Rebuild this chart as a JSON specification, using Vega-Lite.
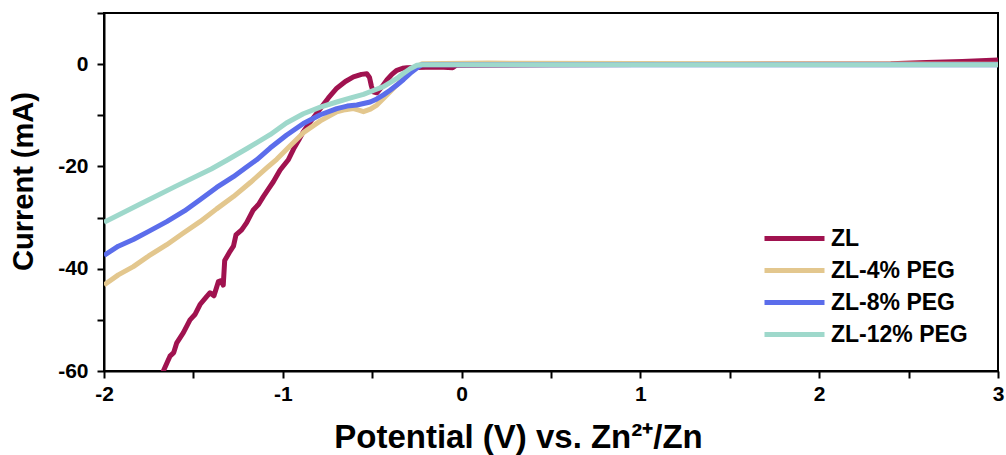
{
  "$schema": "https://vega.github.io/schema/vega-lite/v6.json",
  "width": 894,
  "height": 358,
  "autosize": "none",
  "padding": {"left": 104, "top": 13, "right": 8, "bottom": 84},
  "background": "white",
  "config": {
    "view": {"stroke": "black", "strokeWidth": 2},
    "font": "Liberation Sans"
  },
  "data": {
    "values": [
      {"s": "ZL", "x": -1.70, "y": -63},
      {"s": "ZL", "x": -1.668, "y": -60},
      {"s": "ZL", "x": -1.645, "y": -58.2},
      {"s": "ZL", "x": -1.631, "y": -57.1},
      {"s": "ZL", "x": -1.61, "y": -56.4},
      {"s": "ZL", "x": -1.593, "y": -54.5},
      {"s": "ZL", "x": -1.556, "y": -52.5},
      {"s": "ZL", "x": -1.519, "y": -50.0},
      {"s": "ZL", "x": -1.49, "y": -48.9},
      {"s": "ZL", "x": -1.463, "y": -47.0},
      {"s": "ZL", "x": -1.425, "y": -45.4},
      {"s": "ZL", "x": -1.407, "y": -44.7},
      {"s": "ZL", "x": -1.385, "y": -45.3},
      {"s": "ZL", "x": -1.36, "y": -42.5},
      {"s": "ZL", "x": -1.345, "y": -42.3},
      {"s": "ZL", "x": -1.333, "y": -43.2},
      {"s": "ZL", "x": -1.325, "y": -38.4},
      {"s": "ZL", "x": -1.295, "y": -36.6},
      {"s": "ZL", "x": -1.276, "y": -35.6},
      {"s": "ZL", "x": -1.262, "y": -33.4},
      {"s": "ZL", "x": -1.23, "y": -32.4},
      {"s": "ZL", "x": -1.202, "y": -31.0},
      {"s": "ZL", "x": -1.165, "y": -28.5},
      {"s": "ZL", "x": -1.135, "y": -27.4},
      {"s": "ZL", "x": -1.109, "y": -25.9},
      {"s": "ZL", "x": -1.08, "y": -24.4},
      {"s": "ZL", "x": -1.053, "y": -23.0},
      {"s": "ZL", "x": -1.015, "y": -20.7},
      {"s": "ZL", "x": -0.969, "y": -18.7},
      {"s": "ZL", "x": -0.94, "y": -16.6},
      {"s": "ZL", "x": -0.91, "y": -14.8},
      {"s": "ZL", "x": -0.885, "y": -13.2},
      {"s": "ZL", "x": -0.84, "y": -11.0},
      {"s": "ZL", "x": -0.791, "y": -8.7},
      {"s": "ZL", "x": -0.745, "y": -6.6},
      {"s": "ZL", "x": -0.698, "y": -4.7},
      {"s": "ZL", "x": -0.65, "y": -3.4},
      {"s": "ZL", "x": -0.605, "y": -2.5},
      {"s": "ZL", "x": -0.56, "y": -2.0},
      {"s": "ZL", "x": -0.53, "y": -1.9},
      {"s": "ZL", "x": -0.515, "y": -2.6},
      {"s": "ZL", "x": -0.505, "y": -4.2},
      {"s": "ZL", "x": -0.495, "y": -5.4},
      {"s": "ZL", "x": -0.474, "y": -5.6},
      {"s": "ZL", "x": -0.445, "y": -4.4},
      {"s": "ZL", "x": -0.418, "y": -3.1},
      {"s": "ZL", "x": -0.39, "y": -2.0},
      {"s": "ZL", "x": -0.362, "y": -1.2},
      {"s": "ZL", "x": -0.33, "y": -0.8},
      {"s": "ZL", "x": -0.306, "y": -0.7},
      {"s": "ZL", "x": -0.2, "y": -0.6},
      {"s": "ZL", "x": -0.1, "y": -0.6},
      {"s": "ZL", "x": -0.05, "y": -0.7},
      {"s": "ZL", "x": -0.03, "y": -0.2},
      {"s": "ZL", "x": 0.5, "y": -0.1},
      {"s": "ZL", "x": 1.5, "y": 0},
      {"s": "ZL", "x": 2.4, "y": 0.1},
      {"s": "ZL", "x": 2.6, "y": 0.3},
      {"s": "ZL", "x": 2.8, "y": 0.5},
      {"s": "ZL", "x": 3.0, "y": 0.8},
      {"s": "ZL-4% PEG", "x": -2, "y": -43.2},
      {"s": "ZL-4% PEG", "x": -1.92, "y": -41.2},
      {"s": "ZL-4% PEG", "x": -1.836, "y": -39.6},
      {"s": "ZL-4% PEG", "x": -1.75, "y": -37.5},
      {"s": "ZL-4% PEG", "x": -1.649, "y": -35.3},
      {"s": "ZL-4% PEG", "x": -1.56, "y": -33.1},
      {"s": "ZL-4% PEG", "x": -1.463, "y": -30.8},
      {"s": "ZL-4% PEG", "x": -1.37, "y": -28.3},
      {"s": "ZL-4% PEG", "x": -1.276, "y": -25.9},
      {"s": "ZL-4% PEG", "x": -1.18, "y": -23.1},
      {"s": "ZL-4% PEG", "x": -1.09, "y": -20.3},
      {"s": "ZL-4% PEG", "x": -1.034, "y": -18.6},
      {"s": "ZL-4% PEG", "x": -0.96, "y": -16.0},
      {"s": "ZL-4% PEG", "x": -0.885, "y": -13.4},
      {"s": "ZL-4% PEG", "x": -0.79, "y": -11.1},
      {"s": "ZL-4% PEG", "x": -0.698, "y": -9.3},
      {"s": "ZL-4% PEG", "x": -0.65, "y": -8.9},
      {"s": "ZL-4% PEG", "x": -0.605, "y": -8.7},
      {"s": "ZL-4% PEG", "x": -0.575, "y": -9.0},
      {"s": "ZL-4% PEG", "x": -0.549, "y": -9.3},
      {"s": "ZL-4% PEG", "x": -0.51, "y": -8.8},
      {"s": "ZL-4% PEG", "x": -0.474, "y": -8.0},
      {"s": "ZL-4% PEG", "x": -0.44, "y": -6.8},
      {"s": "ZL-4% PEG", "x": -0.40, "y": -5.4},
      {"s": "ZL-4% PEG", "x": -0.36, "y": -4.0},
      {"s": "ZL-4% PEG", "x": -0.325, "y": -2.8},
      {"s": "ZL-4% PEG", "x": -0.29, "y": -1.5},
      {"s": "ZL-4% PEG", "x": -0.25, "y": -0.5},
      {"s": "ZL-4% PEG", "x": -0.22, "y": 0.1},
      {"s": "ZL-4% PEG", "x": 0.15, "y": 0.2},
      {"s": "ZL-4% PEG", "x": 3, "y": 0},
      {"s": "ZL-8% PEG", "x": -2, "y": -37.4},
      {"s": "ZL-8% PEG", "x": -1.92, "y": -35.6},
      {"s": "ZL-8% PEG", "x": -1.836, "y": -34.3},
      {"s": "ZL-8% PEG", "x": -1.75, "y": -32.7},
      {"s": "ZL-8% PEG", "x": -1.649, "y": -30.8},
      {"s": "ZL-8% PEG", "x": -1.55, "y": -28.7},
      {"s": "ZL-8% PEG", "x": -1.463, "y": -26.5},
      {"s": "ZL-8% PEG", "x": -1.37, "y": -24.1},
      {"s": "ZL-8% PEG", "x": -1.276, "y": -22.0},
      {"s": "ZL-8% PEG", "x": -1.21, "y": -20.3},
      {"s": "ZL-8% PEG", "x": -1.146, "y": -18.7},
      {"s": "ZL-8% PEG", "x": -1.071, "y": -16.4},
      {"s": "ZL-8% PEG", "x": -0.98, "y": -13.9},
      {"s": "ZL-8% PEG", "x": -0.885, "y": -11.6},
      {"s": "ZL-8% PEG", "x": -0.79, "y": -9.9},
      {"s": "ZL-8% PEG", "x": -0.698, "y": -8.7},
      {"s": "ZL-8% PEG", "x": -0.64, "y": -8.2},
      {"s": "ZL-8% PEG", "x": -0.586, "y": -8.0},
      {"s": "ZL-8% PEG", "x": -0.511, "y": -7.4},
      {"s": "ZL-8% PEG", "x": -0.474, "y": -6.8},
      {"s": "ZL-8% PEG", "x": -0.437, "y": -6.0},
      {"s": "ZL-8% PEG", "x": -0.40, "y": -5.1},
      {"s": "ZL-8% PEG", "x": -0.362, "y": -4.1},
      {"s": "ZL-8% PEG", "x": -0.325, "y": -3.0},
      {"s": "ZL-8% PEG", "x": -0.288, "y": -1.8},
      {"s": "ZL-8% PEG", "x": -0.241, "y": -0.5},
      {"s": "ZL-8% PEG", "x": -0.22, "y": -0.1},
      {"s": "ZL-8% PEG", "x": 3, "y": -0.1},
      {"s": "ZL-12% PEG", "x": -2, "y": -30.9},
      {"s": "ZL-12% PEG", "x": -1.8, "y": -27.4},
      {"s": "ZL-12% PEG", "x": -1.6, "y": -23.9},
      {"s": "ZL-12% PEG", "x": -1.4, "y": -20.5},
      {"s": "ZL-12% PEG", "x": -1.313, "y": -18.8},
      {"s": "ZL-12% PEG", "x": -1.2, "y": -16.5},
      {"s": "ZL-12% PEG", "x": -1.071, "y": -13.8},
      {"s": "ZL-12% PEG", "x": -0.98, "y": -11.5},
      {"s": "ZL-12% PEG", "x": -0.885, "y": -9.7},
      {"s": "ZL-12% PEG", "x": -0.79, "y": -8.4},
      {"s": "ZL-12% PEG", "x": -0.698, "y": -7.4},
      {"s": "ZL-12% PEG", "x": -0.62, "y": -6.6},
      {"s": "ZL-12% PEG", "x": -0.549, "y": -5.9},
      {"s": "ZL-12% PEG", "x": -0.49, "y": -5.1},
      {"s": "ZL-12% PEG", "x": -0.437, "y": -4.4},
      {"s": "ZL-12% PEG", "x": -0.40, "y": -3.6},
      {"s": "ZL-12% PEG", "x": -0.362, "y": -2.8},
      {"s": "ZL-12% PEG", "x": -0.325, "y": -1.8},
      {"s": "ZL-12% PEG", "x": -0.288, "y": -0.9},
      {"s": "ZL-12% PEG", "x": -0.25, "y": -0.2},
      {"s": "ZL-12% PEG", "x": -0.22, "y": -0.1},
      {"s": "ZL-12% PEG", "x": 3, "y": -0.1}
    ]
  },
  "mark": {"type": "line", "strokeWidth": 5, "clip": true, "strokeJoin": "round", "strokeCap": "butt"},
  "encoding": {
    "x": {
      "field": "x", "type": "quantitative",
      "scale": {"domain": [-2, 3], "nice": false, "zero": false},
      "axis": {
        "values": [-2, -1.5, -1, -0.5, 0, 0.5, 1, 1.5, 2, 2.5, 3],
        "labelExpr": "datum.value % 1 === 0 ? '' + datum.value : ''",
        "grid": false,
        "domainColor": "black", "domainWidth": 2,
        "tickColor": "black", "tickWidth": 2, "tickSize": 7,
        "labelFont": "Liberation Sans", "labelFontWeight": "bold", "labelFontSize": 21, "labelColor": "black",
        "labelPadding": 5, "labelFlush": false, "labelOverlap": false,
        "title": "Potential (V) vs. Zn²⁺/Zn",
        "titleFont": "Liberation Sans", "titleFontWeight": "bold", "titleFontSize": 33, "titleColor": "black",
        "titleX": 414, "titleY": 76, "titleBaseline": "alphabetic", "titleAlign": "center"
      }
    },
    "y": {
      "field": "y", "type": "quantitative",
      "scale": {"domain": [-60, 10], "nice": false, "zero": false},
      "axis": {
        "values": [-60, -50, -40, -30, -20, -10, 0, 10],
        "labelExpr": "datum.value % 20 === 0 ? '' + datum.value : ''",
        "grid": false,
        "domainColor": "black", "domainWidth": 2,
        "tickColor": "black", "tickWidth": 2, "tickSize": 7,
        "labelFont": "Liberation Sans", "labelFontWeight": "bold", "labelFontSize": 21, "labelColor": "black",
        "labelPadding": 9, "labelFlush": false, "labelOverlap": false,
        "title": "Current (mA)",
        "titleFont": "Liberation Sans", "titleFontWeight": "bold", "titleFontSize": 29, "titleColor": "black",
        "titleX": -72, "titleY": 168, "titleBaseline": "alphabetic", "titleAlign": "center", "titleAngle": -90
      }
    },
    "color": {
      "field": "s", "type": "nominal",
      "scale": {
        "domain": ["ZL", "ZL-4% PEG", "ZL-8% PEG", "ZL-12% PEG"],
        "range": ["#A0124F", "#E3C78E", "#5B6DEB", "#9ED8CB"]
      },
      "legend": {
        "title": null,
        "orient": "none",
        "legendX": 678,
        "legendY": 213,
        "padding": 0,
        "symbolType": "M-3,0H3",
        "symbolSize": 400,
        "symbolStrokeWidth": 5,
        "symbolOpacity": 1,
        "labelFont": "Liberation Sans", "labelFontWeight": "bold", "labelFontSize": 23, "labelColor": "black",
        "labelOffset": 24,
        "rowPadding": 7
      }
    }
  }
}
